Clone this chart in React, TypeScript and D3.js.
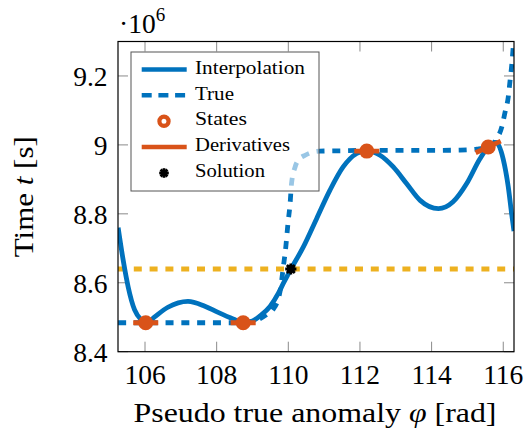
import React from 'react';
import * as d3 from 'd3';

// ---- data ----
const xTicks = [106, 108, 110, 112, 114, 116];
const yTicks = [8.4, 8.6, 8.8, 9.0, 9.2];
const yTickLabels = ['8.4', '8.6', '8.8', '9', '9.2'];

const interpPhi = [105.25, 105.39, 105.53, 105.71, 105.9, 106.05, 106.27, 106.64, 107.2, 107.67, 108.04, 108.46, 108.74, 109.0, 109.2, 109.49, 109.72, 109.86, 110.07, 110.42, 110.79, 111.16, 111.53, 111.91, 112.19, 112.56, 112.93, 113.3, 113.68, 114.19, 114.6, 114.98, 115.35, 115.58, 115.8, 116.0, 116.14, 116.24, 116.3];
const interpT = [8.76, 8.666, 8.588, 8.521, 8.492, 8.483, 8.501, 8.529, 8.546, 8.532, 8.514, 8.495, 8.484, 8.489, 8.503, 8.531, 8.569, 8.598, 8.639, 8.704, 8.786, 8.868, 8.936, 8.975, 8.983, 8.97, 8.936, 8.888, 8.839, 8.815, 8.835, 8.888, 8.96, 8.994, 9.007, 8.958, 8.878, 8.795, 8.75];

const truePhi = [105.25, 106, 107, 108, 108.7, 109.0, 109.2, 109.4, 109.58, 109.77, 109.86, 109.93, 109.99, 110.05, 110.09, 110.19, 110.3, 110.47, 110.88, 111.5, 112, 113, 114, 114.8, 115.26, 115.58, 115.82, 115.96, 116.05, 116.14, 116.19, 116.24, 116.27, 116.29, 116.31];
const trueT = [8.484, 8.484, 8.484, 8.484, 8.484, 8.487, 8.495, 8.508, 8.523, 8.575, 8.645, 8.704, 8.772, 8.83, 8.888, 8.936, 8.958, 8.97, 8.982, 8.983, 8.984, 8.984, 8.984, 8.985, 8.988, 8.994, 9.018, 9.052, 9.095, 9.139, 9.187, 9.235, 9.274, 9.3, 9.34];

const statePhi = [106.02, 108.74, 112.19, 115.58];
const stateT = [8.484, 8.484, 8.982, 8.994];
const stateSlope = [0, 0, 0, 0.048];

const solutionPhi = [110.07];
const solutionT = [8.64];
const levelT = 8.64;

const legendLabels = ['Interpolation', 'True', 'States', 'Derivatives', 'Solution'];
const legendWidths = [110, 39, 52, 95, 70];

const BLUE = '#0072BD';
const ORANGE = '#D95319';
const YELLOW = '#EDB120';
const FS: React.CSSProperties = { fontFamily: "'Liberation Serif', 'Times New Roman', Times, serif" };

export default function App() {
  const left = 118, right = 514, top = 41.5, bottom = 351.7;
  const x = d3.scaleLinear().domain([105.246, 116.3]).range([left, right]);
  const y = d3.scaleLinear().domain([8.4, 9.3]).range([bottom, top]);

  const line = d3.line<[number, number]>()
    .x(d => x(d[0]))
    .y(d => y(d[1]))
    .curve(d3.curveMonotoneX);

  const interpPath = line(interpPhi.map((p, i) => [p, interpT[i]])) || '';
  const truePath = line(truePhi.map((p, i) => [p, trueT[i]])) || '';

  const tickLen = 10;
  const dLen = 0.35;

  const legX0 = 131, legY0 = 52, legW = 188, legH = 139;
  const legC = (i: number) => 69.4 + 25.9 * i;

  const star = (cx: number, cy: number, r: number, key: string) => (
    <g key={key}>
      {[0, 45, 90, 135].map(a => {
        const rad = (a * Math.PI) / 180;
        return (
          <line key={a} x1={cx - r * Math.cos(rad)} y1={cy - r * Math.sin(rad)} x2={cx + r * Math.cos(rad)} y2={cy + r * Math.sin(rad)} stroke="#000" strokeWidth={2.8} />
        );
      })}
      <circle cx={cx} cy={cy} r={r * 0.75} fill="#000" />
    </g>
  );

  return (
    <svg width={528} height={429} style={{ position: 'absolute', left: 0, top: 0, background: '#fff', ...FS }}>
      <defs>
        <clipPath id="plotclip">
          <rect x={left} y={top} width={right - left} height={bottom - top} />
        </clipPath>
      </defs>
      <rect x={0} y={0} width={528} height={429} fill="#fff" />

      {/* ticks (inside, all four sides) */}
      <g stroke="#8a8a8a" strokeWidth={1}>
        {xTicks.map(t => (
          <g key={'xt' + t}>
            <line x1={x(t)} x2={x(t)} y1={bottom} y2={bottom - tickLen} />
            <line x1={x(t)} x2={x(t)} y1={top} y2={top + tickLen} />
          </g>
        ))}
        {yTicks.map(t => (
          <g key={'yt' + t}>
            <line x1={left} x2={left + tickLen} y1={y(t)} y2={y(t)} />
            <line x1={right} x2={right - tickLen} y1={y(t)} y2={y(t)} />
          </g>
        ))}
      </g>

      <g clipPath="url(#plotclip)">
        <line x1={left} x2={right} y1={y(levelT)} y2={y(levelT)} stroke={YELLOW} strokeWidth={4.8} strokeDasharray="8 7.8" />
        <path d={truePath} fill="none" stroke={BLUE} strokeWidth={4.8} strokeDasharray="8 7.8" />
        <path d={interpPath} fill="none" stroke={BLUE} strokeWidth={4.8} />
        {statePhi.map((p, i) => (
          <line key={'d' + i} x1={x(p - dLen)} y1={y(stateT[i] - stateSlope[i] * dLen)} x2={x(p + dLen)} y2={y(stateT[i] + stateSlope[i] * dLen)} stroke={ORANGE} strokeWidth={4.8} />
        ))}
        {statePhi.map((p, i) => (
          <circle key={'s' + i} cx={x(p)} cy={y(stateT[i])} r={7.5} fill={ORANGE} />
        ))}
        {solutionPhi.map((p, i) => star(x(p), y(solutionT[i]), 5.6, 'sol' + i))}
      </g>

      {/* axis box */}
      <rect x={left} y={top} width={right - left} height={bottom - top} fill="none" stroke="#000" strokeWidth={1.2} />

      {/* tick labels */}
      <g fontSize={27.5} fill="#000">
        {xTicks.map(t => (
          <text key={'xl' + t} style={FS} x={x(t)} y={383.5} textAnchor="middle">{t}</text>
        ))}
        {yTicks.map((t, i) => (
          <text key={'yl' + t} style={FS} x={107.5} y={y(t) + 10} textAnchor="end">{yTickLabels[i]}</text>
        ))}
      </g>

      {/* scale label */}
      <text style={FS} x={119} y={32.5} fontSize={27.5} fill="#000">
        ·10<tspan fontSize={19} dy={-12}>6</tspan>
      </text>

      {/* axis labels */}
      <text style={FS} x={315} y={421.5} fontSize={28} textAnchor="middle" textLength={363} lengthAdjust="spacingAndGlyphs" fill="#000">
        Pseudo true anomaly <tspan fontStyle="italic">φ</tspan> [rad]
      </text>
      <text style={FS} transform="translate(33,196.7) rotate(-90)" fontSize={28} textAnchor="middle" textLength={121} lengthAdjust="spacingAndGlyphs" fill="#000">
        Time <tspan fontStyle="italic">t</tspan> [s]
      </text>

      {/* legend */}
      <rect x={legX0} y={legY0} width={legW} height={legH} fill="#fff" fillOpacity={0.6} stroke="#555" strokeWidth={1} />
      <g>
        <line x1={141.7} x2={186.7} y1={legC(0)} y2={legC(0)} stroke={BLUE} strokeWidth={4.5} />
        <line x1={141.7} x2={186.7} y1={legC(1)} y2={legC(1)} stroke={BLUE} strokeWidth={4.5} strokeDasharray="10 6.7" />
        <circle cx={164} cy={legC(2)} r={4.6} fill="#fff" stroke={ORANGE} strokeWidth={4.2} />
        <line x1={141.7} x2={186.7} y1={legC(3)} y2={legC(3)} stroke={ORANGE} strokeWidth={4.5} />
        {star(164, legC(4), 4.8, 'legsol')}
        {legendLabels.map((l, i) => (
          <text key={l} style={FS} x={195} y={legC(i) + 4.2} fontSize={18} textLength={legendWidths[i]} lengthAdjust="spacingAndGlyphs" fill="#000">{l}</text>
        ))}
      </g>
    </svg>
  );
}
